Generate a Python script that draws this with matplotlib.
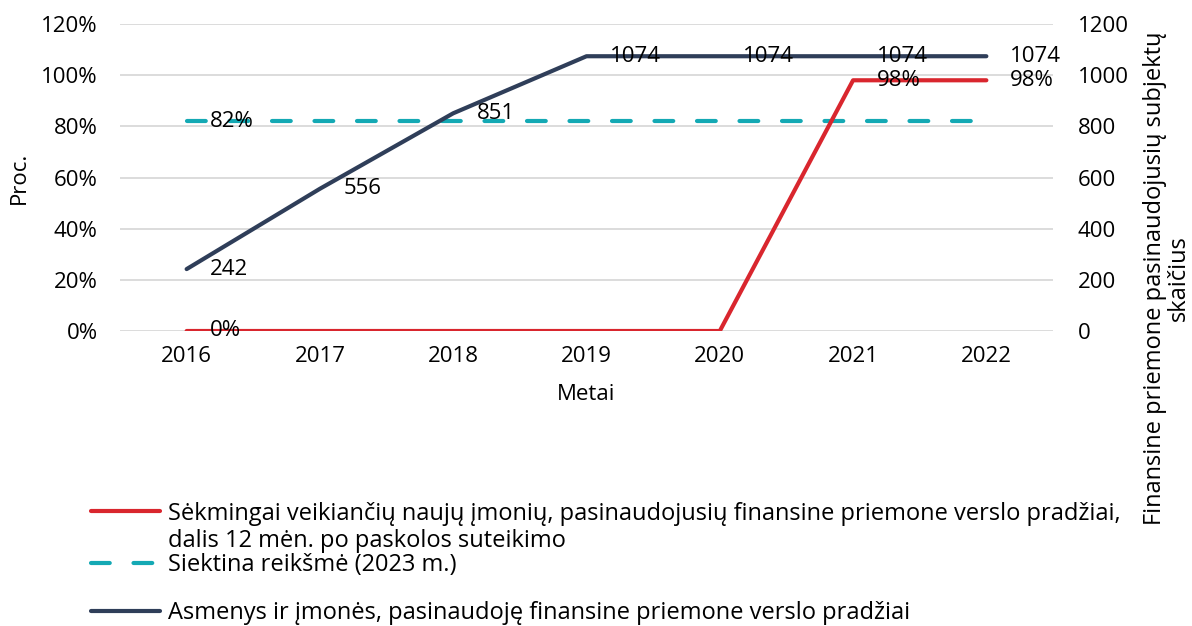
import matplotlib
matplotlib.use("Agg")
import matplotlib.pyplot as plt
from matplotlib.lines import Line2D
from matplotlib.ticker import PercentFormatter, MultipleLocator

years = ["2016", "2017", "2018", "2019", "2020", "2021", "2022"]

# share of new companies still operating 12 months after the loan, %
survival_share = [0, 0, 0, 0, 0, 98, 98]
survival_labels_at = [0, 5, 6]

# target value for 2023, %
target_share = [82, 82, 82, 82, 82, 82, 82]
target_labels_at = [0]

# persons and companies that used the start-up financial instrument
beneficiaries = [242, 556, 851, 1074, 1074, 1074, 1074]
beneficiaries_labels_at = [0, 1, 2, 3, 4, 5, 6]

legend_texts = [
    ["Sėkmingai veikiančių naujų įmonių, pasinaudojusių finansine priemone verslo pradžiai,",
     "dalis 12 mėn. po paskolos suteikimo"],
    ["Siektina reikšmė (2023 m.)"],
    ["Asmenys ir įmonės, pasinaudoję finansine priemone verslo pradžiai"],
]

RED = "#d9262e"
TEAL = "#14a9b4"
NAVY = "#2f3e59"
GRID = "#d9d9d9"
FS = 16
FS_BIG = 17
W, H = 1192, 626

plt.rcParams["font.family"] = ["Open Sans", "DejaVu Sans"]
plt.rcParams["text.color"] = "black"


def fx(px):
    return px / W


def fy(py):
    return 1 - py / H


def label_points(axis, values, indices, fmt):
    for i in indices:
        axis.annotate(fmt.format(values[i]), (i, values[i]), xytext=(17, 0),
                      textcoords="offset points", ha="left", va="center",
                      fontsize=FS, zorder=10)


fig = plt.figure(figsize=(W / 100, H / 100), dpi=100)
ax = fig.add_axes([fx(120), fy(331), fx(1053) - fx(120), fy(24) - fy(331)])
ax2 = ax.twinx()

x = list(range(len(years)))
lw = 3.0
ax.plot(x, target_share, color=TEAL, lw=lw, dashes=(4.5, 5.7),
        dash_capstyle="round", zorder=3)
ax.plot(x, survival_share, color=RED, lw=lw, solid_capstyle="round", zorder=4)
ax2.plot(x, beneficiaries, color=NAVY, lw=lw, solid_capstyle="round", zorder=4)

label_points(ax, target_share, target_labels_at, "{}%")
label_points(ax, survival_share, survival_labels_at, "{}%")
label_points(ax2, beneficiaries, beneficiaries_labels_at, "{}")

ax.set_xlim(-0.5, len(years) - 0.5)
ax.set_ylim(0, 120)
ax2.set_ylim(0, 1200)
ax.yaxis.set_major_locator(MultipleLocator(20))
ax.yaxis.set_major_formatter(PercentFormatter(xmax=100, decimals=0))
ax2.yaxis.set_major_locator(MultipleLocator(200))
ax.set_xticks(x)
ax.set_xticklabels(years)

ax.grid(axis="y", color=GRID, lw=1.3)
ax.set_axisbelow(True)
for a in (ax, ax2):
    for s in a.spines.values():
        s.set_visible(False)
ax.tick_params(axis="x", length=0, pad=11, labelsize=FS)
ax.tick_params(axis="y", length=0, pad=16, labelsize=FS)
ax2.tick_params(axis="y", length=0, pad=18, labelsize=FS)

ax.set_xlabel("Metai", fontsize=FS, labelpad=12)
ax.set_ylabel("Proc.", fontsize=FS, labelpad=8)
fig.text(fx(1167), fy(278), "Finansine priemone pasinaudojusių subjektų\nskaičius",
         rotation=90, ha="center", va="center", multialignment="center",
         fontsize=FS_BIG, linespacing=0.95)

# legend drawn by hand: one handle per series, wrapped text lines
handle_y = [511, 563, 611]
line_baselines = [[520, 547], [571], [619]]
styles = [dict(color=RED, lw=lw, solid_capstyle="round"),
          dict(color=TEAL, lw=lw, dashes=(4.5, 5.7), dash_capstyle="round"),
          dict(color=NAVY, lw=lw, solid_capstyle="round")]
for hy, style, lines, bases in zip(handle_y, styles, legend_texts, line_baselines):
    fig.add_artist(Line2D([fx(91), fx(160)], [fy(hy), fy(hy)],
                          transform=fig.transFigure, **style))
    for text, base in zip(lines, bases):
        fig.text(fx(168), fy(base), text, fontsize=FS_BIG, ha="left", va="baseline")

fig.savefig("out.png", dpi=100)
